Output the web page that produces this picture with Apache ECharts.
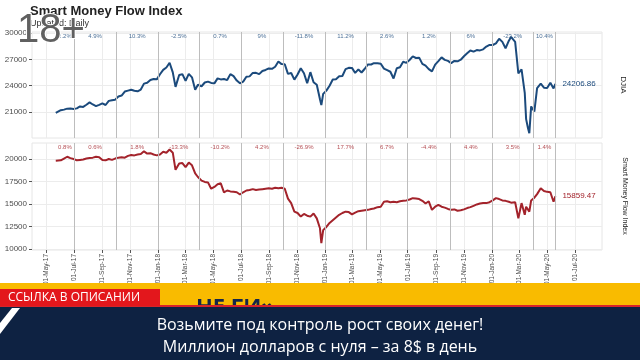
<!DOCTYPE html>
<html><head><meta charset="utf-8">
<script src="https://cdn.jsdelivr.net/npm/echarts@6/dist/echarts.min.js"></script>
<style>html,body{margin:0;padding:0;background:#fff}#c{width:640px;height:360px}</style>
</head><body><div id="c"></div>
<script>
const dates = ['2017-05-22','2017-05-26','2017-06-02','2017-06-09','2017-06-16','2017-06-23','2017-06-30','2017-07-07','2017-07-14','2017-07-21','2017-07-28','2017-08-04','2017-08-11','2017-08-18','2017-08-25','2017-09-01','2017-09-08','2017-09-15','2017-09-22','2017-09-29','2017-10-06','2017-10-13','2017-10-20','2017-10-27','2017-11-03','2017-11-10','2017-11-17','2017-11-24','2017-12-01','2017-12-08','2017-12-15','2017-12-22','2017-12-29','2018-01-05','2018-01-12','2018-01-19','2018-01-26','2018-02-02','2018-02-08','2018-02-16','2018-02-23','2018-03-02','2018-03-09','2018-03-16','2018-03-23','2018-03-29','2018-04-06','2018-04-13','2018-04-20','2018-04-27','2018-05-04','2018-05-11','2018-05-18','2018-05-25','2018-06-01','2018-06-08','2018-06-15','2018-06-22','2018-06-29','2018-07-06','2018-07-13','2018-07-20','2018-07-27','2018-08-03','2018-08-10','2018-08-17','2018-08-24','2018-08-31','2018-09-07','2018-09-14','2018-09-21','2018-09-28','2018-10-05','2018-10-12','2018-10-19','2018-10-26','2018-11-02','2018-11-09','2018-11-16','2018-11-23','2018-11-30','2018-12-07','2018-12-14','2018-12-21','2018-12-24','2018-12-28','2019-01-04','2019-01-11','2019-01-18','2019-01-25','2019-02-01','2019-02-08','2019-02-15','2019-02-22','2019-03-01','2019-03-08','2019-03-15','2019-03-22','2019-03-29','2019-04-05','2019-04-12','2019-04-18','2019-04-26','2019-05-03','2019-05-10','2019-05-17','2019-05-24','2019-05-31','2019-06-07','2019-06-14','2019-06-21','2019-06-28','2019-07-05','2019-07-12','2019-07-19','2019-07-26','2019-08-02','2019-08-09','2019-08-16','2019-08-23','2019-08-30','2019-09-06','2019-09-13','2019-09-20','2019-09-27','2019-10-04','2019-10-11','2019-10-18','2019-10-25','2019-11-01','2019-11-08','2019-11-15','2019-11-22','2019-11-29','2019-12-06','2019-12-13','2019-12-20','2019-12-27','2020-01-03','2020-01-10','2020-01-17','2020-01-24','2020-01-31','2020-02-07','2020-02-12','2020-02-21','2020-02-28','2020-03-06','2020-03-13','2020-03-16','2020-03-20','2020-03-23','2020-03-27','2020-04-03','2020-04-09','2020-04-17','2020-04-24','2020-05-01','2020-05-08','2020-05-15','2020-05-19'];

const djia = [20895,21080,21206,21272,21384,21395,21350,21414,21638,21580,21830,22092,21858,21675,21814,21988,21798,22268,22350,22405,22773,22871,23329,23434,23539,23422,23358,23558,24231,24329,24652,24754,24719,25296,25803,26072,26617,25521,23860,25219,25310,24539,25336,24946,23533,24103,23933,24360,24463,24311,24263,24831,24715,24753,24635,25317,25090,24581,24271,24456,25019,25058,25451,25463,25313,25669,25790,25965,25917,26155,26744,26458,26447,25340,25444,24688,25271,25989,25413,24286,25538,24389,24100,22445,21792,23062,23433,23996,24706,24737,25064,25106,25883,26031,26026,25450,25849,25502,25929,26425,26412,26559,26543,26505,25942,25764,25586,24815,25984,26090,26719,26600,26922,27332,27154,27192,26485,26287,25886,25629,26403,26797,27220,26935,26820,26573,26817,26770,26958,27347,27681,28005,27876,28051,28015,28135,28455,28645,28634,28823,29348,28990,28256,29102,29551,28992,25409,25864,23186,20189,19174,18592,21637,21053,23719,24242,23775,23724,24331,23685,24206.86];

const smfi = [19800,19780,19850,20050,20250,20100,20000,19850,19900,19950,20050,20100,20150,20250,20200,19900,19850,20000,19900,20050,20150,20200,20150,20350,20450,20400,20500,20550,20850,20600,20650,20500,20400,20500,20800,20700,21050,20700,18800,19500,19550,19100,19600,19300,18400,18000,17600,17450,17400,16700,16900,17200,17300,16300,16500,16400,16350,16300,16050,16300,16500,16550,16650,16550,16600,16650,16700,16750,16700,16800,16750,16800,16700,15600,15100,14150,14000,13600,13900,13700,13600,13950,13400,12300,10650,12100,12450,12900,13200,13500,13800,14000,14150,14100,13850,14050,14200,14250,14300,14350,14450,14500,14650,14700,15250,15300,15200,15250,15200,15300,15350,15400,15500,15650,15600,15550,15350,15050,15300,14350,14700,14900,14700,14600,14450,14350,14400,14250,14300,14400,14550,14650,14800,14950,15050,15100,15100,15200,15400,15650,15550,15400,15350,15250,15150,15200,13400,15100,13800,14700,14600,14150,15400,15700,16100,16750,16450,16350,16300,15250,15859.47];

const boundaries = ['2017-05-22','2017-07-01','2017-10-01','2018-01-01','2018-04-01','2018-07-01','2018-10-01','2019-01-01','2019-04-01','2019-07-01','2019-10-01','2020-01-01','2020-04-01','2020-05-19'];
const djiaPct = ['2.2%','4.9%','10.3%','-2.5%','0.7%','9%','-11.8%','11.2%','2.6%','1.2%','6%','-23.2%','10.4%'];
const smfiPct = ['0.8%','0.6%','1.8%','-13.3%','-10.2%','4.2%','-26.9%','17.7%','6.7%','-4.4%','4.4%','3.5%','1.4%'];
const xTicks = ['2017-05-01','2017-07-01','2017-09-01','2017-11-01','2018-01-01','2018-03-01','2018-05-01','2018-07-01','2018-09-01','2018-11-01','2019-01-01','2019-03-01','2019-05-01','2019-07-01','2019-09-01','2019-11-01','2020-01-01','2020-03-01','2020-05-01','2020-07-01'];
const djiaTicks = [21000,24000,27000,30000];
const smfiTicks = [10000,12500,15000,17500,20000];
const monthNames = ['Jan','Feb','Mar','Apr','May','Jun','Jul','Aug','Sep','Oct','Nov','Dec'];

const T = s => { const p = s.split('-').map(Number); return new Date(p[0], p[1]-1, p[2]).getTime(); };
const fmtDate = v => { const d = new Date(v); return String(d.getDate()).padStart(2,'0') + '-' + monthNames[d.getMonth()] + '-' + String(d.getFullYear()).slice(2); };

const bT = boundaries.map(T);
const mids = bT.slice(0, -1).map((b, i) => (b + bT[i+1]) / 2);
const xTickT = xTicks.map(T);

const BLUE = '#1b4a7c', RED = '#a3232b';
const FONT = 'Liberation Sans';
const xMin = T('2017-03-31'), xMax = T('2020-08-29');
const yr = [[18038, 30114], [9889, 21778]];

function xAxisCfg(gi, showLabels) {
  return {
    type: 'value', gridIndex: gi, min: xMin, max: xMax,
    axisLine: {show: false},
    axisTick: {show: showLabels, customValues: xTickT, length: 3, lineStyle: {color: '#555'}},
    axisLabel: {show: showLabels, customValues: xTickT, rotate: 90, fontSize: 6.5, color: '#4d4d4d', fontFamily: FONT, margin: 4, formatter: v => fmtDate(v)},
    splitLine: {show: true, lineStyle: {color: '#ececec', width: 1}}
  };
}
function yAxisCfg(gi, ticks) {
  return {
    type: 'value', gridIndex: gi, min: yr[gi][0], max: yr[gi][1],
    axisLine: {show: false},
    axisTick: {show: true, customValues: ticks, length: 3, lineStyle: {color: '#555'}},
    axisLabel: {customValues: ticks, fontSize: 8, color: '#4d4d4d', fontFamily: FONT, margin: 5, formatter: v => String(v)},
    splitLine: {show: true, lineStyle: {color: '#ececec', width: 1}}
  };
}
function pctSeries(gi, pct, color) {
  return {
    type: 'scatter', xAxisIndex: gi, yAxisIndex: gi, z: 1, silent: true, clip: false,
    symbolSize: 0,
    data: mids.map((m, i) => ({value: [m, yr[gi][1]], label: {formatter: pct[i]}})),
    label: {show: true, position: 'bottom', distance: 1, fontSize: 6, color: color, fontFamily: FONT},
    markLine: {
      silent: true, symbol: 'none', label: {show: false},
      lineStyle: {color: '#bdbdbd', type: 'solid', width: 1},
      data: bT.slice(1).map(b => ({xAxis: b}))
    }
  };
}
function lineSeries(gi, vals, color) {
  return {
    type: 'line', xAxisIndex: gi, yAxisIndex: gi, z: 3, silent: true,
    showSymbol: false, symbol: 'none',
    lineStyle: {color: color, width: 2},
    data: dates.map((d, i) => [T(d), vals[i]]),
    endLabel: {show: true, distance: 7, fontSize: 8, color: color, fontFamily: FONT,
      formatter: p => p.value[1].toFixed(2)}
  };
}

const chart = echarts.init(document.getElementById('c'), null, {renderer: 'canvas'});
chart.setOption({
  animation: false,
  backgroundColor: '#ffffff',
  grid: [
    {left: 32, right: 38, top: 32, height: 106, show: true, borderColor: '#e6e6e6', borderWidth: 1},
    {left: 32, right: 38, top: 143, height: 107, show: true, borderColor: '#e6e6e6', borderWidth: 1}
  ],
  xAxis: [xAxisCfg(0, false), xAxisCfg(1, true)],
  yAxis: [yAxisCfg(0, djiaTicks), yAxisCfg(1, smfiTicks)],
  series: [
    pctSeries(0, djiaPct, BLUE),
    pctSeries(1, smfiPct, RED),
    lineSeries(0, djia, BLUE),
    lineSeries(1, smfi, RED)
  ],
  graphic: [
    {type: 'text', left: 30, top: 5, z: 10, style: {text: 'Smart Money Flow Index', fontSize: 13, fontWeight: 'bold', fill: '#222', fontFamily: FONT}},
    {type: 'text', left: 30, top: 19, z: 10, style: {text: 'Updated: Daily', fontSize: 9, fill: '#333', fontFamily: FONT}},
    {type: 'text', x: 623, y: 85, rotation: -Math.PI/2, z: 10, style: {text: 'DJIA', fontSize: 8, fill: '#222', fontFamily: FONT, align: 'center', verticalAlign: 'middle'}},
    {type: 'text', x: 625, y: 196, rotation: -Math.PI/2, z: 10, style: {text: 'Smart Money Flow Index', fontSize: 7, fill: '#222', fontFamily: FONT, align: 'center', verticalAlign: 'middle'}},
    {type: 'text', x: 17, y: 11, z: 20, style: {text: '18+', fontSize: 40, fill: '#606060', stroke: '#ffffff', lineWidth: 2, fontFamily: FONT}},
    {type: 'rect', z: 20, shape: {x: 0, y: 283, width: 640, height: 24}, style: {fill: '#f9bb00'}},
    {type: 'text', x: 196, y: 297, z: 21, style: {text: 'НЕ ГИ»', fontSize: 22, fontWeight: 'bold', fill: '#15264a', fontFamily: 'Open Sans'}},
    {type: 'rect', z: 22, shape: {x: 0, y: 307, width: 640, height: 53}, style: {fill: '#0e2242'}},
    {type: 'rect', z: 23, shape: {x: 0, y: 305, width: 640, height: 2}, style: {fill: '#d8242a'}},
    {type: 'rect', z: 23, shape: {x: 0, y: 289, width: 160, height: 17}, style: {fill: '#e3171c'}},
    {type: 'text', x: 8, y: 298, z: 24, style: {text: 'ССЫЛКА В ОПИСАНИИ', fontSize: 12, fill: '#ffffff', fontFamily: 'Open Sans', verticalAlign: 'middle'}},
    {type: 'polygon', z: 24, shape: {points: [[12, 308], [20, 308], [0, 334], [0, 323]]}, style: {fill: '#ffffff'}},
    {type: 'text', x: 320, y: 325, z: 24, style: {text: 'Возьмите под контроль рост своих денег!', fontSize: 16, fill: '#ffffff', fontFamily: 'Open Sans', align: 'center', verticalAlign: 'middle'}},
    {type: 'text', x: 320, y: 347, z: 24, style: {text: 'Миллион долларов с нуля – за 8$ в день', fontSize: 16, fill: '#ffffff', fontFamily: 'Open Sans', align: 'center', verticalAlign: 'middle'}}
  ]
});
</script>
</body></html>
